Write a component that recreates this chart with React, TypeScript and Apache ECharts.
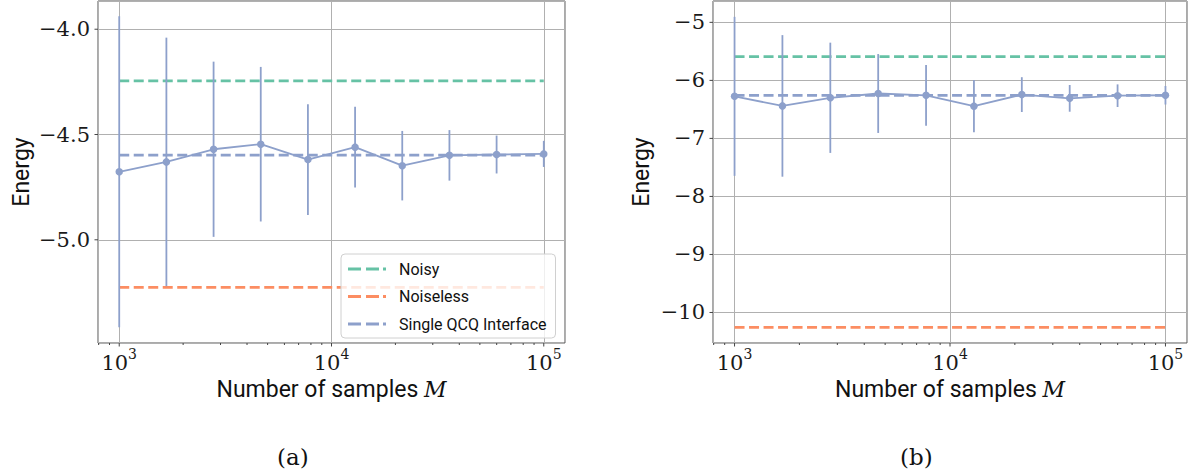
import React, { useEffect, useRef } from 'react';
import * as echarts from 'echarts';

// ---------- data ----------
const samplesM = [1000, 1668, 2783, 4642, 7743, 12915, 21544, 35938, 59948, 100000];
const meanA = [-4.677, -4.630, -4.570, -4.546, -4.619, -4.560, -4.648, -4.599, -4.595, -4.592];
const errA = [0.738, 0.590, 0.416, 0.367, 0.263, 0.192, 0.165, 0.120, 0.090, 0.062];
const meanB = [-6.275, -6.440, -6.300, -6.226, -6.257, -6.444, -6.245, -6.310, -6.264, -6.256];
const errB = [1.370, 1.220, 0.950, 0.680, 0.523, 0.450, 0.300, 0.230, 0.195, 0.160];
const refA = { noisy: -4.245, noiseless: -5.226, qcq: -4.598 };
const refB = { noisy: -5.591, noiseless: -10.258, qcq: -6.258 };
const lineSpan = [1000, 100000];
const majorTicks = [1000, 10000, 100000];
const minorTicks = [800, 900, 2000, 3000, 4000, 5000, 6000, 7000, 8000, 9000,
  20000, 30000, 40000, 50000, 60000, 70000, 80000, 90000];
const yTicksA = [-5.0, -4.5, -4.0];
const yTicksB = [-10, -9, -8, -7, -6, -5];
const legendNames = ['Noisy', 'Noiseless', 'Single QCQ Interface'];

const C_NOISY = '#66c2a5';
const C_NOISELESS = '#fc8d62';
const C_QCQ = '#8da0cb';
const SERIF = 'DejaVu Serif';
const SANS = 'Roboto';
const DASH = [10, 4.5];
const LEG_ICON = 'path://M0,0h13v3h-13z M18,0h13v3h-13z M35,0h3v3h-3z';

const X_MIN = Math.pow(10, 2.9);
const X_MAX = Math.pow(10, 5.1);

function supLabel(v: number) {
  const e = Math.log10(v);
  if (Math.abs(e - Math.round(e)) > 1e-6) return '';
  return '{b|10}{s|' + Math.round(e) + '}';
}

function yFmt(step: number, digits: number) {
  return (v: number) => {
    if (Math.abs(v / step - Math.round(v / step)) > 1e-6) return '';
    const s = Math.abs(v).toFixed(digits);
    return v < 0 ? '\u2212' + s : s;
  };
}

function xTickSeries(idx: number, values: number[], yRef: number, len: number) {
  return {
    type: 'custom',
    xAxisIndex: idx,
    yAxisIndex: idx,
    clip: false,
    silent: true,
    z: 5,
    data: values.map((v) => [v, yRef]),
    encode: { x: 0, y: 1 },
    renderItem: (params: any, api: any) => {
      const x = api.coord([api.value(0), api.value(1)])[0];
      const cs = params.coordSys;
      const yb = cs.y + cs.height;
      return {
        type: 'line',
        shape: { x1: x, y1: yb, x2: x, y2: yb + len },
        style: { stroke: '#444', lineWidth: 1 },
      };
    },
  };
}

function yTickSeries(idx: number, values: number[], len: number) {
  return {
    type: 'custom',
    xAxisIndex: idx,
    yAxisIndex: idx,
    clip: false,
    silent: true,
    z: 5,
    data: values.map((v) => [X_MIN, v]),
    encode: { x: 0, y: 1 },
    renderItem: (params: any, api: any) => {
      const y = api.coord([api.value(0), api.value(1)])[1];
      const cs = params.coordSys;
      return {
        type: 'line',
        shape: { x1: cs.x - len, y1: y, x2: cs.x, y2: y },
        style: { stroke: '#444', lineWidth: 1 },
      };
    },
  };
}

function panelSeries(idx: number, mean: number[], err: number[], ref: any, yMin: number, yTicks: number[]) {
  const hl = (name: string, val: number, color: string) => ({
    type: 'line',
    name,
    xAxisIndex: idx,
    yAxisIndex: idx,
    data: lineSpan.map((x) => [x, val]),
    symbol: 'none',
    lineStyle: { color, width: 2.7, type: DASH },
    itemStyle: { color },
    z: 2,
  });
  return [
    hl('Noisy', ref.noisy, C_NOISY),
    hl('Noiseless', ref.noiseless, C_NOISELESS),
    hl('Single QCQ Interface', ref.qcq, C_QCQ),
    {
      type: 'custom',
      name: 'errbars' + idx,
      xAxisIndex: idx,
      yAxisIndex: idx,
      clip: false,
      z: 3,
      data: samplesM.map((m, i) => [m, mean[i] - err[i], mean[i] + err[i]]),
      encode: { x: 0, y: [1, 2] },
      renderItem: (params: any, api: any) => {
        const p1 = api.coord([api.value(0), api.value(1)]);
        const p2 = api.coord([api.value(0), api.value(2)]);
        return {
          type: 'line',
          shape: { x1: p1[0], y1: p1[1], x2: p2[0], y2: p2[1] },
          style: { stroke: C_QCQ, lineWidth: 1.8 },
        };
      },
    },
    {
      type: 'line',
      name: 'mean' + idx,
      xAxisIndex: idx,
      yAxisIndex: idx,
      data: samplesM.map((m, i) => [m, mean[i]]),
      symbol: 'circle',
      symbolSize: 7.5,
      showSymbol: true,
      lineStyle: { color: C_QCQ, width: 1.8 },
      itemStyle: { color: C_QCQ },
      z: 4,
    },
    xTickSeries(idx, minorTicks, yMin, 2),
    xTickSeries(idx, majorTicks, yMin, 3.5),
    yTickSeries(idx, yTicks, 3.5),
  ];
}

function xAxisOpt(idx: number) {
  return {
    type: 'log',
    gridIndex: idx,
    logBase: 10,
    min: X_MIN,
    max: X_MAX,
    name: 'Number of samples {m|M}',
    nameLocation: 'middle',
    nameGap: 32,
    nameTextStyle: {
      fontFamily: SANS,
      fontSize: 23,
      color: '#111',
      rich: { m: { fontFamily: SERIF, fontStyle: 'italic', fontSize: 22, color: '#111' } },
    },
    axisLine: { show: false },
    axisTick: { show: false },
    minorTick: { show: false },
    splitLine: { show: true, lineStyle: { color: '#b0b0b0', width: 1 } },
    axisLabel: {
      margin: 4,
      formatter: supLabel,
      showMinLabel: true,
      showMaxLabel: true,
      hideOverlap: false,
      rich: {
        b: { fontFamily: SERIF, fontSize: 21, color: '#1a1a1a', lineHeight: 26, verticalAlign: 'bottom' },
        s: { fontFamily: SERIF, fontSize: 14, color: '#1a1a1a', lineHeight: 14, verticalAlign: 'top' },
      },
    },
  };
}

function yAxisOpt(idx: number, min: number, max: number, split: number, step: number, digits: number, gap: number) {
  return {
    type: 'value',
    gridIndex: idx,
    min,
    max,
    splitNumber: split,
    name: 'Energy',
    nameLocation: 'middle',
    nameGap: gap,
    nameRotate: 90,
    nameTextStyle: { fontFamily: SANS, fontSize: 23, color: '#111' },
    axisLine: { show: false },
    axisTick: { show: false },
    splitLine: { show: true, lineStyle: { color: '#b0b0b0', width: 1 } },
    axisLabel: {
      margin: 8,
      formatter: yFmt(step, digits),
      fontFamily: SERIF,
      fontSize: 21,
      color: '#1a1a1a',
      showMinLabel: true,
      showMaxLabel: true,
      hideOverlap: false,
    },
  };
}

export default function App() {
  const ref = useRef<HTMLDivElement>(null);
  useEffect(() => {
    if (!ref.current) return;
    const chart = echarts.init(ref.current, undefined, { renderer: 'svg' });
    const yA: [number, number] = [-5.490, -3.866];
    const yB: [number, number] = [-10.526, -4.632];
    chart.setOption({
      animation: false,
      backgroundColor: '#ffffff',
      grid: [
        { left: 98, top: 1, width: 467, height: 342, show: true, borderColor: '#555', borderWidth: 1, backgroundColor: 'transparent', containLabel: false, outerBoundsMode: 'none' },
        { left: 713, top: 1, width: 474, height: 342, show: true, borderColor: '#555', borderWidth: 1, backgroundColor: 'transparent', containLabel: false, outerBoundsMode: 'none' },
      ],
      xAxis: [xAxisOpt(0), xAxisOpt(1)],
      yAxis: [
        yAxisOpt(0, yA[0], yA[1], 3, 0.5, 1, 65),
        yAxisOpt(1, yB[0], yB[1], 5, 1, 0, 60),
      ],
      legend: {
        show: true,
        orient: 'vertical',
        left: 341,
        top: 254,
        data: legendNames.map((n) => ({ name: n, icon: LEG_ICON })),
        itemWidth: 38,
        itemHeight: 14,
        itemGap: 11.5,
        padding: [7, 9, 6, 7],
        backgroundColor: 'rgba(255,255,255,0.8)',
        borderColor: '#d0d0d0',
        borderWidth: 1,
        borderRadius: 4,
        selectedMode: false,
        textStyle: { fontFamily: SANS, fontSize: 16, color: '#111', padding: [0, 0, 0, 8] },
        z: 10,
      },
      graphic: [
        { type: 'text', left: 293 - 16, top: 445, style: { text: '(a)', font: '23px "DejaVu Serif"', fill: '#111' } },
        { type: 'text', left: 916 - 16, top: 445, style: { text: '(b)', font: '23px "DejaVu Serif"', fill: '#111' } },
      ],
      series: [
        ...panelSeries(0, meanA, errA, refA, yA[0], yTicksA),
        ...panelSeries(1, meanB, errB, refB, yB[0], yTicksB),
      ],
    } as any);
    return () => chart.dispose();
  }, []);
  return (
    <div
      ref={ref}
      style={{ position: 'fixed', left: 0, top: 0, width: 1195, height: 473, background: '#fff' }}
    />
  );
}
